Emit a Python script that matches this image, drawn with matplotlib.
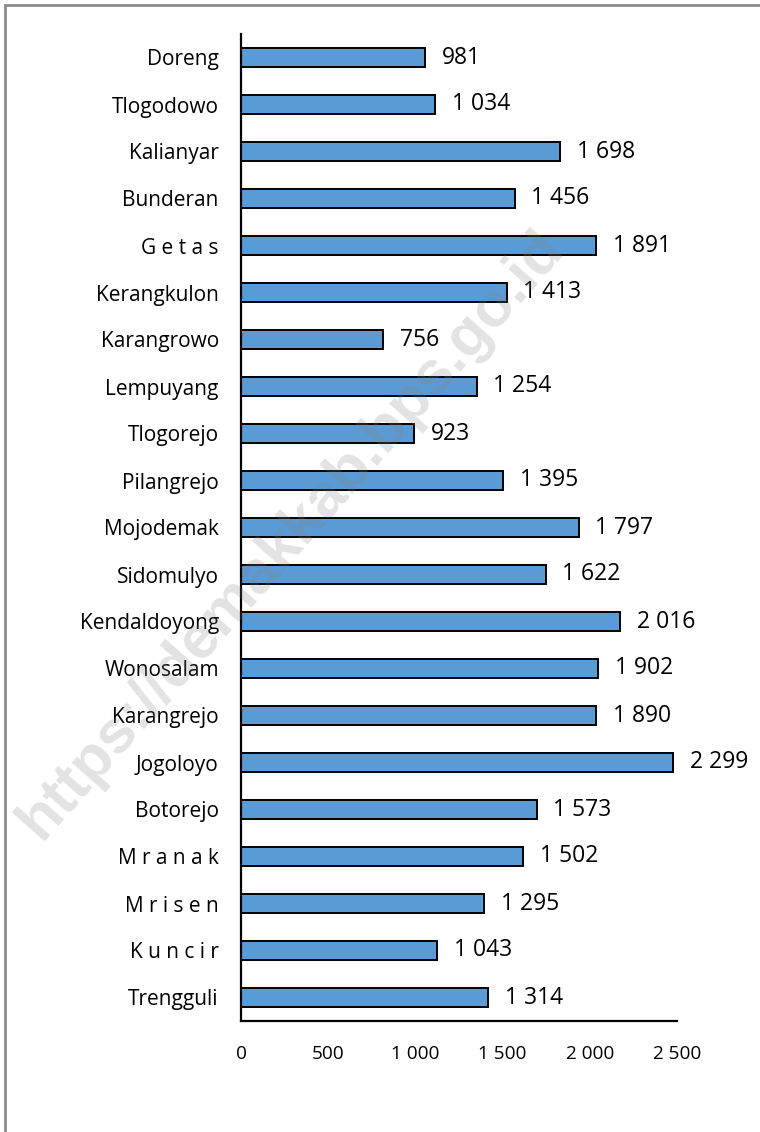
import numpy as np
import matplotlib
matplotlib.use("Agg")
import matplotlib.pyplot as plt
from matplotlib.patches import Rectangle

# data, top to bottom as in the chart
desa = ["Doreng", "Tlogodowo", "Kalianyar", "Bunderan", "G e t a s", "Kerangkulon",
        "Karangrowo", "Lempuyang", "Tlogorejo", "Pilangrejo", "Mojodemak", "Sidomulyo",
        "Kendaldoyong", "Wonosalam", "Karangrejo", "Jogoloyo", "Botorejo", "M r a n a k",
        "M r i s e n", "K u n c i r", "Trengguli"]
nilai = [981, 1034, 1698, 1456, 1891, 1413, 756, 1254, 923, 1395, 1797, 1622,
         2016, 1902, 1890, 2299, 1573, 1502, 1295, 1043, 1314]
tick_labels = ["0", "500", "1 000", "1 500", "2 000", "2 500"]

plt.rcParams['font.family'] = ['Open Sans', 'DejaVu Sans']

W, H = 760, 1132
fig = plt.figure(figsize=(W / 100, H / 100), dpi=100)

# axes box in pixels: left 241, right 677, top 34, bottom 1021
ax = fig.add_axes([241 / W, 1 - 1021 / H, (677 - 241) / W, (1021 - 34) / H])

y = np.arange(len(desa))
ax.barh(y, nilai, height=0.40, color="#5B9BD5", edgecolor="black", linewidth=1.4, zorder=2)

# bars end a little further than the printed axis scale suggests
xmax = 2320
ax.set_xlim(0, xmax)
ax.set_ylim(len(desa) - 0.5, -0.5)
ax.set_yticks(y)
ax.set_yticklabels(desa, fontsize=15)
ax.set_xticks(np.linspace(0, xmax, len(tick_labels)))
ax.set_xticklabels(tick_labels, fontsize=13.7)
ax.tick_params(length=0)
ax.tick_params(axis="y", pad=16)
ax.tick_params(axis="x", pad=17)

for s in ["top", "right"]:
    ax.spines[s].set_visible(False)
for s in ["left", "bottom"]:
    ax.spines[s].set_linewidth(1.6)

for yi, v in zip(y, nilai):
    lbl = f"{v:,}".replace(",", " ")
    ax.annotate(lbl, (v, yi), xytext=(12, 0), textcoords="offset points",
                va="center", ha="left", fontsize=16.5)

# frame around the figure (cut off at right and bottom)
fig.patches.append(Rectangle((5 / W, -0.1), 1.2, 1 - 5 / H + 0.1, transform=fig.transFigure,
                             fill=False, edgecolor="#8c8c8c", linewidth=2))

# watermark
fig.text(292 / W, 1 - 535 / H, "https://demakkab.bps.go.id", rotation=48.5,
         ha="center", va="center", fontsize=44, fontweight="bold",
         family="Liberation Sans", color="gray", alpha=0.22, zorder=10)

fig.savefig("out.png", dpi=100)
